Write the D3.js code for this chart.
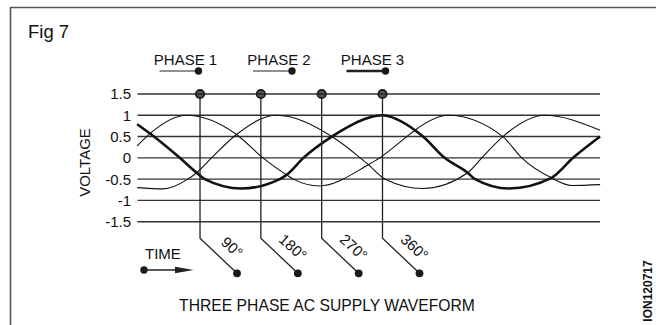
<!DOCTYPE html>
<html>
<head>
<meta charset="utf-8">
<script src="https://cdn.jsdelivr.net/npm/d3@7"></script>
<style>
  html, body { margin: 0; padding: 0; background: #fff; }
  svg { display: block; }
  text { font-family: "Liberation Sans", Arial, sans-serif; fill: #111; }
</style>
</head>
<body>
<svg id="chart" width="656" height="325"></svg>
<script>
// ---------- data ----------
const figureLabel = "Fig 7";
const chartTitle = "THREE PHASE AC SUPPLY WAVEFORM";
const yAxisTitle = "VOLTAGE";
const timeLabel = "TIME";
const sideCode = "ION120717";
const phaseNames = ["PHASE 1", "PHASE 2", "PHASE 3"];
const voltageTicks = [1.5, 1, 0.5, 0, -0.5, -1, -1.5];
const voltageTickLabels = ["1.5", "1", "0.5", "0", "-0.5", "-1", "-1.5"];
const markerAngles = [90, 180, 270, 360];
const markerLabels = ["90°", "180°", "270°", "360°"];

// phase waveforms: angle (degrees) and voltage
const phase1Angle = [-3, 16, 70, 144, 183, 218, 228, 267, 339, 356, 396, 408, 457, 538, 566, 610, 640, 682];
const phase1Volt  = [0.28, 0.57, 1.0, 0.55, 0, -0.4, -0.5, -0.66, -0.16, 0, 0.5, 0.65, 1.0, 0.5, 0, -0.47, -0.65, -0.63];
const phase2Angle = [-3, 35, 72, 85, 107, 144, 203, 285, 327, 339, 364, 420, 486, 507, 538, 600, 682];
const phase2Volt  = [-0.7, -0.73, -0.5, -0.35, 0, 0.55, 1.0, 0.5, 0, -0.16, -0.5, -0.72, -0.35, 0, 0.5, 1.0, 0.65];
const phase3Angle = [-3, 16, 60, 85, 97, 151, 208, 218, 243, 285, 341, 359, 408, 420, 452, 486, 497, 547, 610, 642, 682];
const phase3Volt  = [0.79, 0.57, 0, -0.35, -0.5, -0.72, -0.5, -0.4, 0, 0.5, 0.95, 1.0, 0.65, 0.5, 0, -0.35, -0.5, -0.72, -0.47, 0, 0.5];

// ---------- layout ----------
const svg = d3.select("#chart");
const x = d3.scaleLinear().domain([0, 360]).range([139.2, 382.5]);
const y = d3.scaleLinear().domain([-1.5, 1.5]).range([221.7, 94]);
const gridX0 = x(-2.5), gridX1 = 600;

// frame
svg.append("line").attr("x1", 10).attr("x2", 656).attr("y1", 7.5).attr("y2", 7.5)
  .attr("stroke", "#555").attr("stroke-width", 1.6);
svg.append("line").attr("x1", 10.5).attr("x2", 10.5).attr("y1", 7).attr("y2", 325)
  .attr("stroke", "#555").attr("stroke-width", 1.6);

// figure label
svg.append("text").attr("x", 28).attr("y", 38).attr("font-size", 18.5).text(figureLabel);

// grid lines + y labels
svg.append("g").selectAll("line").data(voltageTicks).join("line")
  .attr("x1", gridX0).attr("x2", gridX1)
  .attr("y1", d => y(d)).attr("y2", d => y(d))
  .attr("stroke", "#333").attr("stroke-width", 1.4);
svg.append("g").selectAll("text").data(voltageTicks).join("text")
  .attr("x", 131).attr("y", d => y(d)).attr("dy", "0.36em")
  .attr("text-anchor", "end").attr("font-size", 15)
  .text((d, i) => voltageTickLabels[i]);

// y-axis title
svg.append("text").attr("transform", "translate(89.5,162.5) rotate(-90)")
  .attr("text-anchor", "middle").attr("font-size", 15).text(yAxisTitle);

// waveforms
const line = d3.line().x(d => x(d[0])).y(d => y(d[1])).curve(d3.curveMonotoneX);
const waves = [
  { a: phase1Angle, v: phase1Volt, w: 1.1 },
  { a: phase2Angle, v: phase2Volt, w: 1.1 },
  { a: phase3Angle, v: phase3Volt, w: 2.6 }
];
svg.append("g").selectAll("path").data(waves).join("path")
  .attr("d", d => line(d.a.map((a, i) => [a, d.v[i]])))
  .attr("fill", "none").attr("stroke", "#111")
  .attr("stroke-width", d => d.w).attr("stroke-linejoin", "round");

// angle markers
const bendY = y(-1.5) + 16.5, dotDX = 37, dotY = 273.3;
const mk = svg.append("g").selectAll("g").data(markerAngles).join("g");
mk.append("path")
  .attr("d", d => `M${x(d)},${y(1.5)}V${bendY}L${x(d) + dotDX},${dotY}`)
  .attr("fill", "none").attr("stroke", "#222").attr("stroke-width", 1.3);
mk.append("circle").attr("cx", d => x(d)).attr("cy", y(1.5)).attr("r", 4.2)
  .attr("fill", "#555").attr("stroke", "#1a1a1a").attr("stroke-width", 1.8);
mk.append("line").attr("x1", d => x(d) - 3).attr("x2", d => x(d) + 3)
  .attr("y1", y(1.5)).attr("y2", y(1.5)).attr("stroke", "#1a1a1a").attr("stroke-width", 1.2);
mk.append("circle").attr("cx", d => x(d) + dotDX).attr("cy", dotY).attr("r", 3.9)
  .attr("fill", "#1a1a1a");
mk.append("text")
  .attr("transform", d => `translate(${x(d) + 32},${bendY + 9}) rotate(42)`)
  .attr("text-anchor", "middle").attr("dy", "0.35em").attr("font-size", 15)
  .text((d, i) => markerLabels[i]);

// legend
const lx = d3.scalePoint().domain(phaseNames).range([185.5, 372.5]);
const lg = svg.append("g").selectAll("g").data(phaseNames).join("g");
lg.append("text").attr("x", d => lx(d)).attr("y", 65).attr("text-anchor", "middle")
  .attr("font-size", 15).text(d => d);
lg.append("line").attr("x1", d => lx(d) - 26).attr("x2", d => lx(d) + 13)
  .attr("y1", 71).attr("y2", 71).attr("stroke", "#222")
  .attr("stroke-width", (d, i) => i === 2 ? 2.4 : 1.2);
lg.append("circle").attr("cx", d => lx(d) + 13).attr("cy", 71).attr("r", 3.7).attr("fill", "#1a1a1a");

// time arrow
svg.append("text").attr("x", 145).attr("y", 258.5).attr("font-size", 15).text(timeLabel);
svg.append("circle").attr("cx", 144).attr("cy", 270).attr("r", 3.7).attr("fill", "#1a1a1a");
svg.append("line").attr("x1", 144).attr("x2", 178).attr("y1", 270).attr("y2", 270)
  .attr("stroke", "#222").attr("stroke-width", 1.3);
svg.append("path").attr("d", "M175,266.8L193.5,270L175,273.2Z").attr("fill", "#222");

// title
svg.append("text").attr("x", 327).attr("y", 310.5).attr("text-anchor", "middle")
  .attr("font-size", 15.7).text(chartTitle);

// side code
svg.append("text").attr("transform", "translate(652,291) rotate(-90)")
  .attr("text-anchor", "middle").attr("font-size", 12).attr("font-weight", 600).text(sideCode);
</script>
</body>
</html>
